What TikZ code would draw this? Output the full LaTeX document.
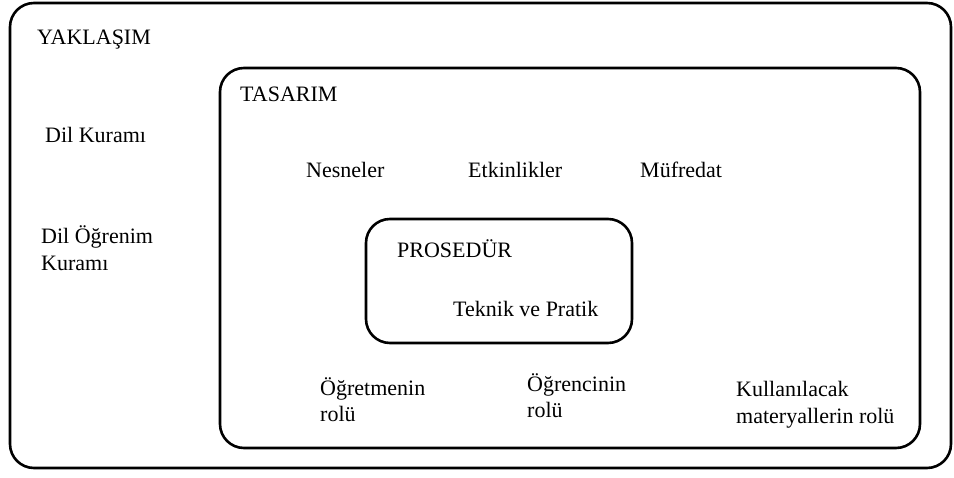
\documentclass[tikz,border=0pt]{standalone}
\usepackage{fontspec}
\setmainfont{Liberation Serif}
\newfontfamily\timesfont{Liberation Serif}
\usepackage{tikz}
\usetikzlibrary{positioning}

\begin{document}
\begin{tikzpicture}[
    x=1pt, y=-1pt,
    frame/.style={draw=black, line width=2.6pt, rounded corners=24pt},
    lbl/.style={anchor=base west, inner sep=0pt, align=left,
                font=\timesfont\fontsize{22}{27}\selectfont}
]
    \useasboundingbox (0,0) rectangle (954,478);

    % Boxes
    \draw[frame] (10,3) rectangle (951,468);
    \draw[frame] (220,68) rectangle (920,448);
    \draw[frame] (366,219) rectangle (632,343);

    % Approach
    \node[lbl] (yaklasim) at (37,45) {YAKLAŞIM};
    \node[lbl] (dilkurami) at (45,143) {Dil Kuramı};
    \node[lbl] (dilogrenim) at (41,271) {Dil Öğrenim\\Kuramı};

    % Design
    \node[lbl] (tasarim) at (240,102) {TASARIM};
    \node[lbl] (nesneler) at (306,178) {Nesneler};
    \node[lbl] (etkinlikler) at (468,178) {Etkinlikler};
    \node[lbl] (mufredat) at (640,178) {Müfredat};

    % Procedure
    \node[lbl] (prosedur) at (397,258) {PROSEDÜR};
    \node[lbl] (teknik) at (453,317) {Teknik ve Pratik};

    % Roles
    \node[lbl] (ogretmen) at (320,422) {Öğretmenin\\rolü};
    \node[lbl] (ogrenci) at (527,418) {Öğrencinin\\rolü};
    \node[lbl] (materyal) at (736,424) {Kullanılacak\\materyallerin rolü};

\end{tikzpicture}
\end{document}
